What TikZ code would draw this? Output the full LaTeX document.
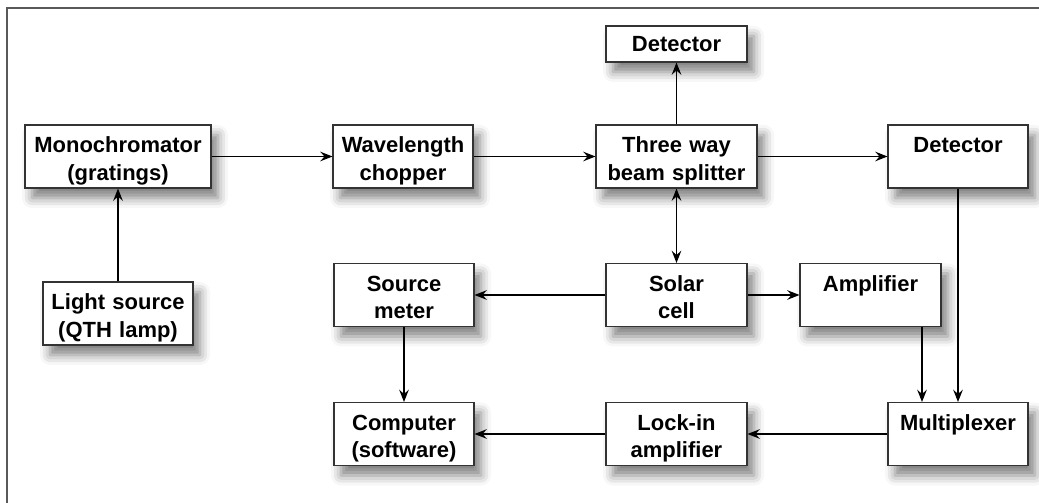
\documentclass[tikz,border=0pt]{standalone}
\usepackage{fontspec}
\setmainfont{Liberation Sans}
\usetikzlibrary{arrows.meta,shadows.blur}
\tikzset{
  >={Stealth[length=7pt,width=5.5pt,inset=2.5pt]},
  blk/.style={draw=black!80,line width=0.6pt,fill=white,align=center,inner sep=0pt,
    font=\fontsize{12.5}{15.5}\selectfont\bfseries,
    text height=0.56cm,text depth=0.70cm,
    blur shadow={shadow xshift=0.14cm,shadow yshift=-0.2cm,shadow blur radius=0.2cm,shadow opacity=50}},
  link/.style={line width=0.7pt}
}
\begin{document}
\begin{tikzpicture}
      \useasboundingbox (0,0) rectangle (20.78,10.04);
      % frame
      \draw[black!65,line width=1pt] (0.14,-1) -- (0.14,9.88) -- (22,9.88);
      % top row
      \node[blk,text width=3.72cm] (mono) at (2.36,6.91) {Monochromator\\(gratings)};
      \node[blk,text width=2.8cm] (wave) at (8.06,6.91) {Wavelength\\chopper};
      \node[blk,text width=3.22cm] (split) at (13.53,6.91) {Three way\\beam splitter};
      \node[blk,text width=2.8cm] (detr) at (19.16,6.91) {Detector};
      \node[blk,text width=2.82cm,text height=0.52cm,text depth=0.2cm] (dettop) at (13.53,9.16) {Detector};
      % middle row
      \node[blk,text width=3.0cm] (light) at (2.36,3.77) {Light source\\(QTH lamp)};
      \node[blk,text width=2.8cm] (source) at (8.08,4.14) {Source\\meter};
      \node[blk,text width=2.82cm] (solar) at (13.53,4.14) {Solar\\cell};
      \node[blk,text width=2.82cm] (amp) at (17.41,4.14) {Amplifier};
      % bottom row
      \node[blk,text width=2.8cm] (comp) at (8.08,1.36) {Computer\\(software)};
      \node[blk,text width=2.82cm] (lock) at (13.53,1.36) {Lock-in\\amplifier};
      \node[blk,text width=2.8cm] (mux) at (19.16,1.36) {Multiplexer};
      % connectors
      \draw[link,->] (light) -- (mono);
      \draw[link,->] (mono) -- (wave);
      \draw[link,->] (wave) -- (split);
      \draw[link,->] (split) -- (dettop);
      \draw[link,->] (split) -- (detr);
      \draw[link,<->] (solar) -- (split);
      \draw[link,->] (solar) -- (source);
      \draw[link,->] (solar) -- (amp);
      \draw[link,->] (source) -- (comp);
      \draw[link,->] (detr) -- (mux);
      \draw[link,->] ([xshift=1.03cm]amp.south) -- ([xshift=1.03cm]amp.south |- mux.north);
      \draw[link,->] (mux) -- (lock);
      \draw[link,->] (lock) -- (comp);
\end{tikzpicture}
\end{document}
